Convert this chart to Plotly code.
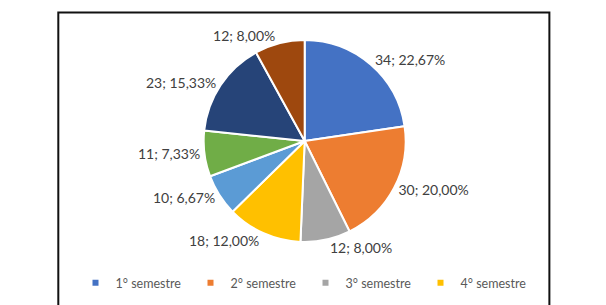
import plotly.graph_objects as go

labels = ["1° semestre", "2° semestre", "3° semestre", "4° semestre",
          "5° semestre", "6° semestre", "7° semestre", "8° semestre"]
values = [34, 30, 12, 18, 10, 11, 23, 12]
colors = ["#4472C4", "#ED7D31", "#A5A5A5", "#FFC000",
          "#5B9BD5", "#70AD47", "#264478", "#9E480E"]
legend_count = 4

W, H = 606, 305
cx, cy, r = 302, 141, 101

fig = go.Figure()
fig.add_trace(go.Pie(
    labels=labels, values=values, sort=False, direction="clockwise", rotation=0,
    marker=dict(colors=colors, line=dict(color="white", width=2)),
    textposition="outside", texttemplate="%{value}; %{percent:.2%}",
    textfont=dict(family="Lato", size=14, color="#404040"),
    showlegend=False, hoverinfo="label+value+percent",
    domain=dict(x=[(cx - 2 * r) / W, (cx + 2 * r) / W],
                y=[1 - (cy + r) / H, 1 - (cy - r) / H]),
))
for i in range(legend_count):
    fig.add_trace(go.Scatter(
        x=[None], y=[None], mode="markers", name=labels[i],
        marker=dict(symbol="square", size=6, color=colors[i]),
    ))

fig.update_layout(
    width=W, height=H, margin=dict(l=0, r=0, t=0, b=0),
    paper_bgcolor="white", plot_bgcolor="white",
    separators=",.",
    xaxis=dict(visible=False), yaxis=dict(visible=False),
    legend=dict(orientation="h", x=0.5, xanchor="center", y=1 - 283 / H, yanchor="middle",
                font=dict(family="Lato", size=12.5, color="#595959"),
                itemwidth=30, entrywidth=70, entrywidthmode="pixels",
                tracegroupgap=0, bgcolor="rgba(0,0,0,0)"),
    shapes=[dict(type="rect", xref="paper", yref="paper",
                 x0=4 / W, x1=598 / W, y0=-0.05, y1=1 - 12.5 / H,
                 line=dict(color="#111111", width=2))],
)
fig.write_html("out.html")
